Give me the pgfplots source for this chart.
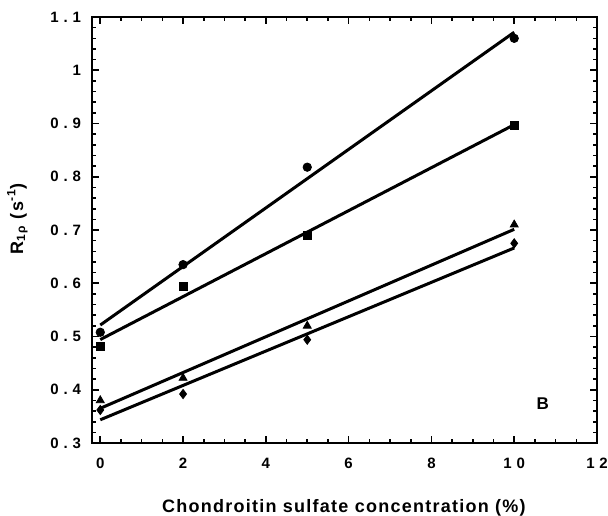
\documentclass[border=0pt]{standalone}
\usepackage{pgfplots}
\usepackage{pgfplotstable}
\pgfplotsset{compat=1.18}
\usepackage{fontspec}
\setmainfont{Liberation Sans}
\newfontfamily\lsfont[LetterSpace=7]{Liberation Sans}
\pgfplotstableread{
x c s t d
0 0.508 0.482 0.380 0.362
2 0.635 0.594 0.422 0.392
5 0.818 0.690 0.520 0.494
10 1.060 0.897 0.710 0.675
}\datatable
\newcommand{\gp}{\hspace{2.4pt}}
\begin{document}
\begin{tikzpicture}
\begin{axis}[
  scale only axis,
  width=252.5pt, height=213pt,
  xmin=-0.2, xmax=12, ymin=0.3, ymax=1.1,
  xtick={0,2,4,6,8,10,12},
  xticklabels={\textbf{0},\textbf{2},\textbf{4},\textbf{6},\textbf{8},\textbf{1\gp 0},\textbf{1\gp 2}},
  ytick={0.3,0.4,0.5,0.6,0.7,0.8,0.9,1.0,1.1},
  yticklabels={\textbf{0\gp.\gp3},\textbf{0\gp.\gp4},\textbf{0\gp.\gp5},\textbf{0\gp.\gp6},\textbf{0\gp.\gp7},\textbf{0\gp.\gp8},\textbf{0\gp.\gp9},\textbf{1},\textbf{1\gp.\gp1}},
  minor x tick num=3, minor y tick num=4,
  tick align=inside, tick pos=both,
  major tick length=3.5pt, minor tick length=2pt,
  every tick/.style={line width=0.8pt, black},
  axis line style={line width=1pt},
  ticklabel style={font=\fontsize{7.5}{9}\selectfont},
  xticklabel style={yshift=-4pt},
  yticklabel style={xshift=-2pt},
  xlabel={\textbf{Chondroitin sulfate concentration (\%)}},
  ylabel={\textbf{R\textsubscript{1ρ} (s\textsuperscript{-1})}},
  label style={font=\lsfont\fontsize{9}{10}\selectfont},
  xlabel style={at={(axis description cs:0.5,0)}, anchor=base, yshift=-34.5pt},
  ylabel style={at={(axis description cs:-0.1366,0.528)}, anchor=base},
]
\addplot[only marks, mark=*, mark size=2.1pt, black] table[x=x,y=c]{\datatable};
\addplot[only marks, mark=square*, mark size=2pt, black] table[x=x,y=s]{\datatable};
\addplot[only marks, mark=triangle*, mark size=2.3pt, black] table[x=x,y=t]{\datatable};
\addplot[only marks, mark=diamond*, mark size=2.3pt, black] table[x=x,y=d]{\datatable};
\addplot[no marks, black, line width=1.5pt] table[x=x,y={create col/linear regression={y=c}}]{\datatable};
\addplot[no marks, black, line width=1.5pt] table[x=x,y={create col/linear regression={y=s}}]{\datatable};
\addplot[no marks, black, line width=1.5pt] table[x=x,y={create col/linear regression={y=t}}]{\datatable};
\addplot[no marks, black, line width=1.5pt] table[x=x,y={create col/linear regression={y=d}}]{\datatable};
\node[font=\fontsize{8.5}{10}\selectfont\bfseries] at (axis cs:10.69,0.373) {B};
\end{axis}
\pgfresetboundingbox
\path[use as bounding box] (-46pt,-36pt) rectangle (258pt,221.5pt);
\end{tikzpicture}
\end{document}
